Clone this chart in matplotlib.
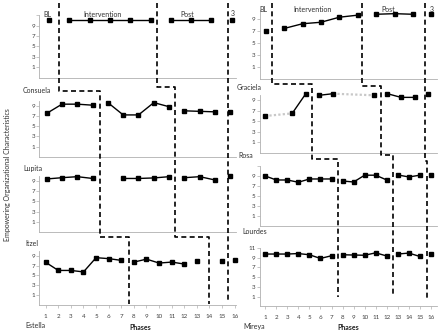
import matplotlib
matplotlib.use("Agg")
import matplotlib.pyplot as plt
from matplotlib.lines import Line2D
import numpy as np

plt.rcParams["font.family"] = ["Lato", "DejaVu Sans"]

W, H = 446, 336
nan = np.nan

# ---- data: one list of scores per participant panel (session 1..n, nan = no probe)
consuela = [10, 10, 10, 10, 10, 10, 10, 10, 10, 10]
consuela_runs = [[1], [2, 3, 4, 5, 6], [7, 8, 9], [10]]

lupita = [7.5, 9.3, 9.3, 9.1, 9.6, 7.2, 7.2, 9.6, 8.8, 8.0, 7.9, 7.8, 7.8]
lupita_runs = [[1, 2, 3, 4], [5, 6, 7, 8, 9], [10, 11, 12], [13]]

itzel = [9.4, 9.65, 9.85, 9.5, nan, 9.5, 9.5, 9.6, 9.85, 9.65, 9.85, 9.2, 9.9]
itzel_runs = [[1, 2, 3, 4], [6, 7, 8, 9], [10, 11, 12], [13]]

estella = [7.65, 6.0, 6.0, 5.7, 8.6, 8.4, 8.05, 7.7, 8.3, 7.5, 7.7, 7.3, 8.0,
           nan, 8.0, 8.1]
estella_runs = [[1, 2, 3, 4, 5, 6, 7], [8, 9, 10, 11, 12], [13], [15], [16]]

graciela = [7.0, 7.45, 8.25, 8.5, 9.35, 9.7, 9.85, 9.95, 9.85, 9.9]
graciela_runs = [[1], [2, 3, 4, 5, 6], [7, 8, 9], [10]]

rosa = [5.95, nan, 6.45, 10.2, 9.9, 10.2, nan, nan, 9.9, 10.2, 9.5, 9.5, 10.2]
rosa_runs = [[1], [3, 4], [5, 6], [9], [10, 11, 12], [13]]
rosa_dotted = [(1, 3), (6, 9)]

lourdes = [8.95, 8.15, 8.15, 7.7, 8.35, 8.35, 8.35, 7.95, 7.75, 9.1, 9.1, 8.15,
           9.15, 8.75, 9.1, 9.05]
lourdes_runs = [[1, 2, 3, 4, 5, 6, 7], [8, 9, 10, 11, 12], [13, 14, 15], [16]]

mireya = [9.75, 9.75, 9.75, 9.85, 9.6, 8.85, 9.4, 9.6, 9.55, 9.5, 10.0, 9.35,
          9.75, 9.95, 9.25, 9.75]
mireya_runs = [[1, 2, 3, 4, 5, 6, 7], [8, 9, 10, 11, 12], [13, 14, 15], [16]]

sessions = list(range(1, 17))
phase_names = ["BL", "Intervention", "Post", "3"]

# phase-change positions (session units) for each of the 3 lines, per panel row
left_phase = [[1.5, 4.5, 4.5, 7.6], [6.3, 9.4, 9.4, 13.96], [9.82, 12.85, 12.85, 15.47]]
right_phase = [[1.34, 4.48, 7.59, 7.59], [6.25, 9.54, 12.57, 12.57], [9.67, 12.74, 15.6, 15.6]]

# ---- layout (pixels): left, right, x of session 1, session spacing, y of 9, y of 1
geom = {
    "consuela": (39.3, 236, 49.0, 20.3, 25.7, 67.3),
    "lupita": (39.3, 236, 46.7, 15.3, 105.7, 146.7),
    "itzel": (39.3, 236, 46.7, 15.3, 181.0, 221.7),
    "estella": (39.3, 236, 45.7, 12.6, 255.7, 295.0),
    "graciela": (259.7, 437, 265.7, 18.4, 19.3, 66.7),
    "rosa": (259.7, 437, 265.0, 13.6, 100.0, 142.0),
    "lourdes": (259.7, 437, 265.2, 11.05, 175.7, 216.0),
    "mireya": (259.7, 437, 265.2, 11.05, 257.7, 296.7),
}
spine_top = {"consuela": 11, "lupita": 10, "itzel": 10, "estella": 10,
             "graciela": 10.5, "rosa": 10, "lourdes": 11, "mireya": 11}

fig = plt.figure(figsize=(W / 100, H / 100), dpi=100)
axes = {}

panels = [
    ("consuela", consuela, consuela_runs, []),
    ("lupita", lupita, lupita_runs, []),
    ("itzel", itzel, itzel_runs, []),
    ("estella", estella, estella_runs, []),
    ("graciela", graciela, graciela_runs, []),
    ("rosa", rosa, rosa_runs, rosa_dotted),
    ("lourdes", lourdes, lourdes_runs, []),
    ("mireya", mireya, mireya_runs, []),
]

for key, vals, runs, dotted in panels:
    L, R, x1, sp, p9, p1 = geom[key]
    s = (p1 - p9) / 8
    top = p9 - 2 * s
    bot = p1 + 2 * s
    ax = fig.add_axes([L / W, 1 - bot / H, (R - L) / W, (bot - top) / H])
    ax.patch.set_visible(False)
    ax.set_xlim(1 + (L - x1) / sp, 1 + (R - x1) / sp)
    ax.set_ylim(-1, 11)
    for a, b in dotted:
        ax.plot([a, b], [vals[a - 1], vals[b - 1]], color="#c8c8c8",
                linestyle=(0, (1, 1)), linewidth=1.6, clip_on=False, zorder=2)
    for run in runs:
        ax.plot(run, [vals[i - 1] for i in run], color="black", linewidth=1.0,
                marker="s", markersize=3.2, clip_on=False, zorder=3)
    for sp_name in ["top", "right"]:
        ax.spines[sp_name].set_visible(False)
    ax.spines["left"].set_color("#b0b0b0")
    ax.spines["bottom"].set_color("#b0b0b0")
    ax.spines["left"].set_linewidth(0.6)
    ax.spines["bottom"].set_linewidth(0.6)
    ax.spines["left"].set_bounds(-1, spine_top[key])
    yt = [v for v in [1, 3, 5, 7, 9, 11] if v <= spine_top[key]]
    ax.set_yticks(yt)
    ax.set_yticklabels([str(v) if (v < 11 or key == "mireya") else "" for v in yt])
    ax.tick_params(axis="y", length=2, width=0.5, color="#b0b0b0", pad=1,
                   labelsize=4.5, labelcolor="#404040")
    if key in ("estella", "mireya"):
        ax.set_xticks(sessions)
        ax.tick_params(axis="x", length=2, width=0.5, color="#b0b0b0", pad=4.5,
                       labelsize=4.5, labelcolor="#404040")
    else:
        ax.set_xticks([])
    axes[key] = ax

# phase titles on the top panels
for key, pos, ys in [("consuela", [0.94, 3.65, 7.8, 10.06], [11.2, 11.2, 11.2, 11.4]),
                     ("graciela", [0.85, 3.57, 7.68, 10.0], [10.6, 10.6, 10.6, 10.7])]:
    for name, xp, yp in zip(phase_names, pos, ys):
        axes[key].text(xp, yp, name, ha="center", va="center", fontsize=5,
                       color="#303030", clip_on=False)


def to_fig(ax, x, y):
    d = ax.transData.transform((x, y))
    return fig.transFigure.inverted().transform(d)


# staircase phase-change lines: connectors given in lower panel's data units
left_keys = ["consuela", "lupita", "itzel", "estella"]
right_keys = ["graciela", "rosa", "lourdes", "mireya"]
stairs = [
    (left_keys, left_phase[0], [11.93, 12.0, 12.8], 13.37, -0.84),
    (left_keys, left_phase[1], [12.7, 12.0, 12.87], 13.37, -0.84),
    (left_keys, left_phase[2], [12.0, 12.0, 12.0], 13.37, -0.4),
    (right_keys, right_phase[0], [12.05, 12.37, 12.0], 11.75, 0.94),
    (right_keys, right_phase[1], [11.76, 13.1, 12.0], 11.75, 1.35),
    (right_keys, right_phase[2], [12.0, 12.0, 12.0], 11.75, 0.32),
]
for keys, xs, conn, ytop, ybot in stairs:
    pts = [to_fig(axes[keys[0]], xs[0], ytop)]
    for i in range(1, 4):
        prev_x = to_fig(axes[keys[i - 1]], xs[i - 1], 0)[0]
        c = to_fig(axes[keys[i]], xs[i], conn[i - 1])
        pts.append((prev_x, c[1]))
        pts.append(c)
    pts.append(to_fig(axes[keys[3]], xs[3], ybot))
    pts = np.array(pts)
    fig.add_artist(Line2D(pts[:, 0], pts[:, 1], transform=fig.transFigure,
                          color="black", linewidth=1.2, linestyle=(0, (3, 2)),
                          zorder=5))

# participant names
names = [("Consuela", 23, 90.7), ("Lupita", 23, 168.7), ("Itzel", 25, 243.7),
         ("Estella", 25, 326), ("Graciela", 237, 87.3), ("Rosa", 238, 155),
         ("Lourdes", 242, 231), ("Mireya", 243, 326)]
for name, xp, yp in names:
    fig.text(xp / W, 1 - yp / H, name, ha="left", va="center", fontsize=5,
             color="#303030")

fig.text(140 / W, 1 - 327.7 / H, "Phases", ha="center", va="center",
         fontsize=5, fontweight="bold", color="#202020")
fig.text(348 / W, 1 - 327.7 / H, "Phases", ha="center", va="center",
         fontsize=5, fontweight="bold", color="#202020")
fig.text(8 / W, 1 - 175 / H, "Empowering Organizational Characteristics",
         rotation=90, ha="center", va="center", fontsize=5, color="#303030")

fig.savefig("out.png", dpi=100)
